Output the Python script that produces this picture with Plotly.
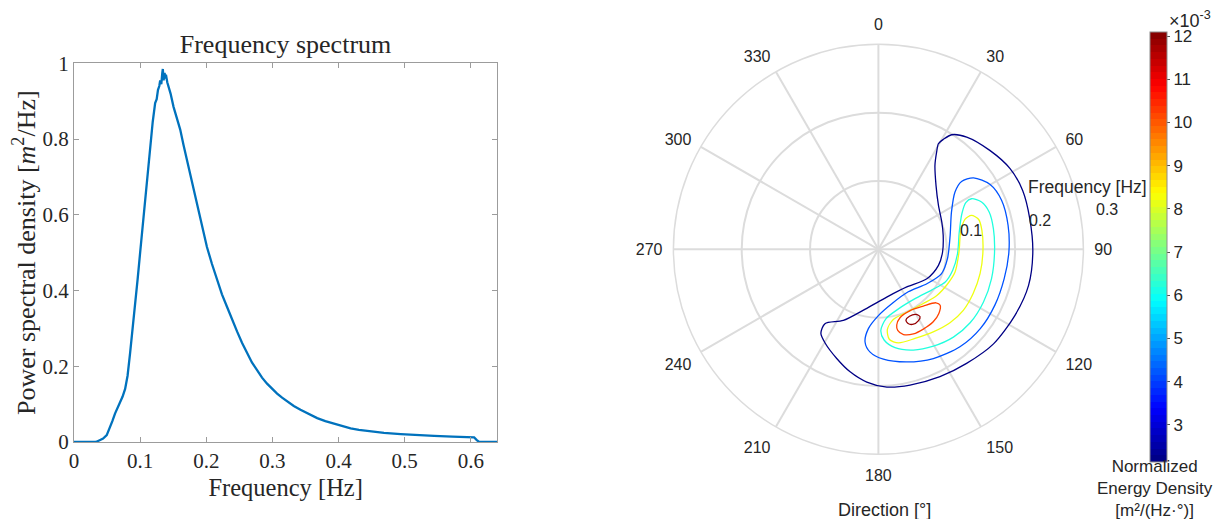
import plotly.graph_objects as go
from plotly.colors import sample_colorscale

# ---------------- Left panel: frequency spectrum ----------------
freq = [0, 0.02, 0.033, 0.038, 0.044, 0.0495, 0.0545, 0.058, 0.062, 0.066, 0.0697,
        0.0735, 0.0773, 0.081, 0.0848, 0.0886, 0.0924, 0.0962, 0.1, 0.104, 0.1076,
        0.1115, 0.1152, 0.119, 0.1227, 0.125, 0.127, 0.129, 0.1303, 0.132, 0.1335,
        0.1343, 0.1355, 0.137, 0.1379, 0.139, 0.141, 0.143, 0.146, 0.1505, 0.155,
        0.1606, 0.1655, 0.1707, 0.1758, 0.1808, 0.1859, 0.1909, 0.196, 0.201, 0.2086,
        0.2162, 0.2237, 0.2313, 0.239, 0.2465, 0.254, 0.2616, 0.269, 0.2768, 0.2843,
        0.2919, 0.2995, 0.3071, 0.3146, 0.3222, 0.3323, 0.3424, 0.355, 0.3677, 0.38,
        0.3929, 0.4055, 0.4182, 0.4308, 0.4434, 0.4687, 0.4939, 0.5192, 0.5444, 0.572,
        0.6, 0.605, 0.609, 0.6126, 0.64]
psd = [0, 0, 0, 0.004, 0.009, 0.018, 0.038, 0.055, 0.075, 0.09, 0.102,
       0.12, 0.14, 0.175, 0.235, 0.295, 0.36, 0.43, 0.5, 0.575, 0.645,
       0.72, 0.785, 0.845, 0.895, 0.905, 0.93, 0.94, 0.955, 0.945, 0.975,
       0.985, 0.955, 0.975, 0.96, 0.97, 0.95, 0.94, 0.92, 0.885, 0.86,
       0.825, 0.785, 0.745, 0.705, 0.665, 0.63, 0.595, 0.555, 0.515, 0.47,
       0.428, 0.39, 0.357, 0.322, 0.292, 0.262, 0.234, 0.21, 0.19, 0.17,
       0.154, 0.14, 0.128, 0.117, 0.107, 0.095, 0.085, 0.073, 0.063, 0.055,
       0.048, 0.041, 0.036, 0.032, 0.029, 0.024, 0.021, 0.018, 0.016, 0.014,
       0.013, 0.012, 0.005, 0, 0]
x_ticks = [0, 0.1, 0.2, 0.3, 0.4, 0.5, 0.6]
x_tick_labels = ["0", "0.1", "0.2", "0.3", "0.4", "0.5", "0.6"]
y_ticks = [0, 0.2, 0.4, 0.6, 0.8, 1]
y_tick_labels = ["0", "0.2", "0.4", "0.6", "0.8", "1"]

# ---------------- Right panel: directional spectrum contours ----------------
angle_ticks = [0, 30, 60, 90, 120, 150, 180, 210, 240, 270, 300, 330]
angle_tick_labels = [str(a) for a in angle_ticks]
radial_ticks = [0.1, 0.2, 0.3]
radial_tick_labels = ["0.1", "0.2", "0.3"]

contour_levels = [2.2e-3, 4.2e-3, 6.2e-3, 8.2e-3, 10.2e-3, 11.9e-3]

c1_theta = [30.6, 29.6, 30.9, 34.0, 42.0, 53.7, 66.7, 77.8, 92.4, 105.0, 121.3, 143.0,
            170.1, 191.1, 206.2, 215.7, 214.4, 209.5, 200.9, 193.0, 185.0, 176.5, 166.9,
            154.2, 142.3, 129.4, 115.8, 103.5, 91.0, 78.6, 67.8, 58.5, 48.4, 38.2, 32.6]
c1_r = [0.187, 0.178, 0.166, 0.148, 0.126, 0.109, 0.101, 0.097, 0.094, 0.091, 0.083, 0.069,
        0.071, 0.088, 0.116, 0.134, 0.149, 0.158, 0.171, 0.184, 0.195, 0.202, 0.204,
        0.207, 0.211, 0.218, 0.222, 0.226, 0.226, 0.226, 0.228, 0.226, 0.218, 0.209, 0.199]

c2_theta = [53.1, 59.9, 68.3, 79.5, 91.2, 103.1, 115.6, 127.9, 140.1, 153.3, 165.9, 177.4,
            184.6, 188.2, 187.2, 180.0, 166.2, 144.9, 125.4, 111.0, 97.7, 78.9, 63.0, 53.2, 50.8]
c2_r = [0.174, 0.189, 0.194, 0.193, 0.191, 0.189, 0.189, 0.189, 0.186, 0.179, 0.170, 0.161,
        0.151, 0.137, 0.117, 0.097, 0.082, 0.076, 0.087, 0.099, 0.102, 0.107, 0.120, 0.140, 0.157]

c3_theta = [61.5, 65.4, 71.4, 79.8, 91.3, 104.5, 116.6, 128.7, 139.5, 150.4, 160.9, 170.4,
            176.4, 178.3, 173.7, 161.4, 143.4, 127.5, 116.1, 105.8, 93.1, 77.9, 66.8, 61.9]
c3_r = [0.155, 0.166, 0.171, 0.171, 0.170, 0.171, 0.172, 0.172, 0.169, 0.163, 0.156, 0.146,
        0.133, 0.119, 0.102, 0.092, 0.090, 0.098, 0.109, 0.113, 0.116, 0.121, 0.133, 0.145]

c4_theta = [70.0, 73.3, 79.6, 91.5, 103.5, 115.0, 125.7, 135.7, 146.4, 157.7, 167.9, 173.0,
            173.6, 168.0, 155.7, 140.4, 128.3, 117.1, 106.5, 91.9, 78.1, 70.9]
c4_r = [0.145, 0.153, 0.154, 0.153, 0.153, 0.153, 0.153, 0.150, 0.145, 0.141, 0.140, 0.133,
        0.118, 0.105, 0.101, 0.103, 0.109, 0.113, 0.117, 0.118, 0.123, 0.134]

c5_theta = [166.4, 162.5, 152.6, 141.7, 132.9, 132.2, 136.7, 142.9, 150.6, 157.5, 163.6, 166.6]
c5_r = [0.114, 0.105, 0.101, 0.106, 0.115, 0.122, 0.129, 0.133, 0.134, 0.134, 0.130, 0.122]

c6_theta = [158.7, 155.1, 150.0, 148.3, 150.9, 155.0, 158.2]
c6_r = [0.111, 0.108, 0.110, 0.116, 0.120, 0.121, 0.117]

cbar_min = 2.15e-3
cbar_max = 12.1e-3
cbar_ticks = [3e-3, 4e-3, 5e-3, 6e-3, 7e-3, 8e-3, 9e-3, 10e-3, 11e-3, 12e-3]
cbar_tick_labels = ["3", "4", "5", "6", "7", "8", "9", "10", "11", "12"]

jet = [[0.0, "rgb(0,0,128)"], [0.125, "rgb(0,0,255)"], [0.375, "rgb(0,255,255)"],
       [0.625, "rgb(255,255,0)"], [0.875, "rgb(255,0,0)"], [1.0, "rgb(128,0,0)"]]

# 64-step banded version of jet, as in the reference colour bar
N_STEPS = 64
_band = sample_colorscale(jet, [(i + 0.5) / N_STEPS for i in range(N_STEPS)])
jet_banded = []
for i, c in enumerate(_band):
    jet_banded.append([i / N_STEPS, c])
    jet_banded.append([(i + 1) / N_STEPS, c])

SERIF = "Liberation Serif"
SANS = "Liberation Sans"
TXT = "#262626"
GRID = "#dcdcdc"

# the page body keeps an 8 px margin, so the drawing area is 1212 x 511 px
OFF, PW, PH = 8, 1212, 511


def fx(px):
    return (px - OFF) / PW


def fy(py):
    return 1 - (py - OFF) / PH


fig = go.Figure()

fig.add_trace(go.Scatter(x=freq, y=psd, mode="lines",
                         line=dict(color="#0072BD", width=2.3),
                         showlegend=False, hoverinfo="skip",
                         xaxis="x", yaxis="y"))

contours = [(c1_theta, c1_r), (c2_theta, c2_r), (c3_theta, c3_r),
            (c4_theta, c4_r), (c5_theta, c5_r), (c6_theta, c6_r)]
fracs = [(lv - cbar_min) / (cbar_max - cbar_min) for lv in contour_levels]
colors = sample_colorscale(jet, [min(max(f, 0), 1) for f in fracs])
for (th, rr), col in zip(contours, colors):
    fig.add_trace(go.Scatterpolar(theta=th + th[:1], r=rr + rr[:1], mode="lines",
                                  line=dict(color=col, width=1.3, shape="spline", smoothing=0.8),
                                  showlegend=False, hoverinfo="skip", subplot="polar"))

# colorbar carrier (invisible markers)
fig.add_trace(go.Scatterpolar(theta=[0] * len(contour_levels), r=[0] * len(contour_levels),
                              mode="markers", subplot="polar", showlegend=False, hoverinfo="skip",
                              marker=dict(size=1, opacity=0, color=contour_levels,
                                          colorscale=jet_banded, cmin=cbar_min, cmax=cbar_max,
                                          showscale=True,
                                          colorbar=dict(x=fx(1150.3), xanchor="left",
                                                        y=fy(246.7), yanchor="middle",
                                                        len=430, lenmode="pixels",
                                                        thickness=17, thicknessmode="pixels",
                                                        outlinecolor="#8c8c8c", outlinewidth=1,
                                                        tickvals=cbar_ticks, ticktext=cbar_tick_labels,
                                                        ticks="outside", ticklen=3, tickcolor="#555",
                                                        tickfont=dict(family=SANS, size=17, color=TXT),
                                                        xpad=0, ypad=0))))

# radial tick labels sit just outside their rings, along a line ~80 deg
radial_label_px = [(971.3, 230.3), (1040.0, 220.7), (1106.7, 209.3)]
annotations = [
    dict(text=lbl, x=fx(px), y=fy(py), xref="paper", yref="paper", xanchor="center",
         yanchor="middle", showarrow=False, font=dict(family=SANS, size=16, color=TXT))
    for lbl, (px, py) in zip(radial_tick_labels, radial_label_px)
]
annotations += [
    dict(text="Frequency [Hz]", x=fx(1087.5), y=fy(187), xref="paper", yref="paper",
         xanchor="center", yanchor="middle", showarrow=False,
         font=dict(family=SANS, size=17.5, color=TXT)),
    dict(text="Direction [°]", x=fx(884), y=fy(510), xref="paper", yref="paper",
         xanchor="center", yanchor="middle", showarrow=False,
         font=dict(family=SANS, size=18, color=TXT)),
    dict(text="×10<sup>-3</sup>", x=fx(1190), y=fy(19), xref="paper", yref="paper",
         xanchor="center", yanchor="middle", showarrow=False,
         font=dict(family=SANS, size=18, color=TXT)),
    dict(text="Normalized<br>Energy Density<br>[m²/(Hz·°)]", x=fx(1155), y=fy(455),
         xref="paper", yref="paper", xanchor="center", yanchor="top", showarrow=False,
         font=dict(family=SANS, size=17, color=TXT)),
]

fig.update_layout(
    paper_bgcolor="white", plot_bgcolor="white",
    margin=dict(l=0, r=0, t=0, b=0, autoexpand=False),
    showlegend=False,
    title=dict(text="Frequency spectrum", x=fx(285.5), xanchor="center",
               y=fy(44), yanchor="middle",
               font=dict(family=SERIF, size=26, color=TXT)),
    xaxis=dict(domain=[fx(74), fx(497.3)], range=[0, 0.64], anchor="y",
               automargin=False,
               tickvals=x_ticks, ticktext=x_tick_labels,
               ticks="inside", ticklen=5, tickcolor="#9c9c9c",
               showline=True, linecolor="#9c9c9c", linewidth=1, mirror="ticks",
               showgrid=False, zeroline=False,
               tickfont=dict(family=SERIF, size=21, color=TXT),
               title=dict(text="Frequency [Hz]", font=dict(family=SERIF, size=24.5, color=TXT),
                          standoff=6)),
    yaxis=dict(domain=[fy(442), fy(63.3)], range=[0, 1], anchor="x",
               automargin=False,
               tickvals=y_ticks, ticktext=y_tick_labels,
               ticks="inside", ticklen=5, tickcolor="#9c9c9c",
               showline=True, linecolor="#9c9c9c", linewidth=1, mirror="ticks",
               showgrid=False, zeroline=False,
               tickfont=dict(family=SERIF, size=21, color=TXT),
               title=dict(text="Power spectral density [<i>m</i><sup>2</sup>/Hz]",
                          font=dict(family=SERIF, size=26, color=TXT), standoff=8)),
    polar=dict(
        domain=dict(x=[fx(673.3), fx(1083.5)], y=[fy(454.3), fy(44.3)]),
        bgcolor="white",
        angularaxis=dict(rotation=90, direction="clockwise",
                         tickvals=angle_ticks, ticktext=angle_tick_labels,
                         showgrid=True, gridcolor=GRID, gridwidth=1.5,
                         showline=True, linecolor=GRID, linewidth=1.5,
                         ticks="outside", ticklen=7, tickcolor="rgba(0,0,0,0)",
                         tickfont=dict(family=SANS, size=16, color=TXT)),
        radialaxis=dict(range=[0, 0.3], tickvals=radial_ticks, showticklabels=False,
                        angle=10, showline=False, ticks="",
                        showgrid=True, gridcolor=GRID, gridwidth=1.5),
    ),
    annotations=annotations,
)

fig.write_html("out.html")
